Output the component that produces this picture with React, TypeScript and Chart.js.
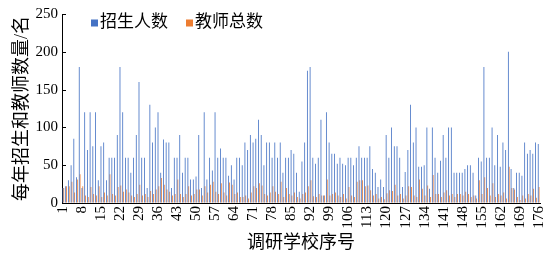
import React, { useEffect, useRef } from 'react';
import { Chart, registerables } from 'chart.js';

Chart.register(...registerables);

const FONT = '"Liberation Serif", "Noto Sans CJK SC", serif';

const seriesNames = ['招生人数', '教师总数'];
const seriesColors = ['#4472C4', '#ED7D31'];

const categories: string[] = Array.from({ length: 176 }, (_, i) => String(i + 1));

const xTickLabels = ['1', '8', '15', '22', '29', '36', '43', '50', '57', '64', '71', '78', '85', '92', '99', '106', '113', '120', '127', '134', '141', '148', '155', '162', '169', '176'];

const yTicks = [0, 50, 100, 150, 200, 250];

const enrollment = [
  20, 22, 30, 50, 85, 34, 180, 20, 120, 70,
  120, 75, 120, 30, 75, 80, 30, 60, 60, 60,
  90, 180, 120, 60, 60, 40, 60, 90, 160, 60,
  60, 20, 130, 80, 100, 120, 40, 84, 80, 80,
  20, 60, 60, 90, 40, 60, 60, 31, 31, 35,
  90, 20, 120, 31, 60, 43, 120, 60, 72, 60,
  60, 36, 50, 31, 60, 60, 50, 80, 70, 90,
  80, 85, 110, 90, 50, 80, 80, 60, 80, 60,
  80, 40, 60, 60, 70, 65, 40, 15, 55, 80,
  175, 180, 60, 52, 60, 110, 10, 120, 80, 65,
  65, 52, 60, 52, 50, 60, 60, 50, 60, 75,
  60, 60, 60, 75, 45, 40, 21, 31, 21, 90,
  60, 100, 75, 75, 60, 21, 41, 70, 130, 80,
  100, 48, 48, 50, 100, 19, 100, 60, 40, 56,
  90, 60, 100, 100, 40, 40, 40, 40, 45, 50,
  50, 40, 10, 60, 55, 180, 60, 60, 100, 50,
  90, 48, 80, 70, 200, 45, 20, 40, 40, 36,
  80, 65, 70, 65, 80, 78,
];

const teachers = [
  20, 22, 22, 28, 14, 31, 38, 22, 10, 8,
  21, 12, 10, 22, 8, 14, 10, 38, 12, 10,
  21, 23, 15, 18, 14, 10, 8, 12, 24, 10,
  12, 8, 16, 12, 18, 22, 33, 24, 18, 15,
  10, 12, 31, 12, 8, 12, 22, 10, 12, 18,
  18, 10, 22, 14, 24, 28, 15, 12, 26, 14,
  10, 27, 24, 12, 14, 8, 8, 10, 6, 14,
  22, 20, 26, 23, 12, 10, 14, 22, 15, 12,
  28, 8, 20, 12, 10, 14, 8, 6, 12, 14,
  22, 30, 9, 8, 12, 10, 10, 31, 10, 12,
  14, 10, 8, 12, 6, 21, 10, 8, 28, 30,
  30, 22, 23, 17, 10, 12, 6, 8, 5, 13,
  17, 16, 24, 10, 12, 6, 10, 22, 21, 10,
  8, 31, 19, 10, 23, 8, 37, 12, 12, 8,
  14, 17, 10, 12, 8, 12, 12, 10, 15, 12,
  8, 10, 6, 30, 12, 34, 20, 10, 26, 8,
  12, 10, 14, 6, 48, 20, 18, 8, 4, 10,
  6, 12, 10, 19, 7, 21,
];

const insideTicks = {
  id: 'insideTicks',
  afterDraw(chart: any) {
    const ctx = chart.ctx;
    const y = chart.scales.y;
    const left = chart.chartArea.left;
    ctx.save();
    ctx.strokeStyle = '#000';
    ctx.lineWidth = 1;
    yTicks.forEach((v) => {
      const py = Math.round(y.getPixelForValue(v)) + 0.5;
      ctx.beginPath();
      ctx.moveTo(left, py);
      ctx.lineTo(left + 4, py);
      ctx.stroke();
    });
    ctx.restore();
  },
};

const insideLegend = {
  id: 'insideLegend',
  afterDraw(chart: any) {
    const ctx = chart.ctx;
    const { left } = chart.chartArea;
    ctx.save();
    ctx.font = '17px ' + FONT;
    ctx.textBaseline = 'middle';
    ctx.fillStyle = '#000';
    let x = left + 29;
    const cy = 23;
    chart.data.datasets.forEach((ds: any) => {
      ctx.fillStyle = ds.backgroundColor;
      ctx.fillRect(x, cy - 3.5, 7, 7);
      x += 9;
      ctx.fillStyle = '#000';
      ctx.fillText(ds.label, x, cy);
      x += ctx.measureText(ds.label).width + 18;
    });
    ctx.restore();
  },
};

export default function App() {
  const ref = useRef<HTMLCanvasElement | null>(null);

  useEffect(() => {
    if (!ref.current) return;
    const chart = new Chart(ref.current, {
      type: 'bar',
      data: {
        labels: categories,
        datasets: [
          {
            label: seriesNames[0],
            data: enrollment,
            backgroundColor: seriesColors[0],
            categoryPercentage: 0.6,
            barPercentage: 1,
          },
          {
            label: seriesNames[1],
            data: teachers,
            backgroundColor: seriesColors[1],
            categoryPercentage: 0.6,
            barPercentage: 1,
          },
        ],
      },
      options: {
        animation: false,
        responsive: false,
        maintainAspectRatio: false,
        layout: { padding: { top: 14, right: 14, left: 0, bottom: 0 } },
        plugins: {
          legend: { display: false },
          tooltip: { enabled: false },
        },
        scales: {
          x: {
            grid: { display: true, drawOnChartArea: false, drawTicks: false },
            border: { display: true, color: '#000', width: 1 },
            ticks: {
              autoSkip: false,
              maxRotation: 90,
              minRotation: 90,
              padding: 3,
              color: '#000',
              font: { family: FONT, size: 15 },
              callback: (_v: any, i: number) =>
                xTickLabels.includes(categories[i]) ? categories[i] : null,
            },
            title: {
              display: true,
              text: '调研学校序号',
              color: '#000',
              font: { family: FONT, size: 18 },
              padding: { top: 0, bottom: 10 },
            },
            afterFit: (s: any) => {
              s.height = 61;
              s.paddingLeft = 0;
              s.paddingRight = 0;
            },
          },
          y: {
            min: 0,
            max: 250,
            grid: { display: true, drawOnChartArea: false, drawTicks: false },
            border: { display: true, color: '#000', width: 1 },
            ticks: {
              stepSize: 50,
              padding: 4,
              color: '#000',
              font: { family: FONT, size: 15 },
            },
            title: {
              display: true,
              text: '每年招生和教师数量/名',
              color: '#000',
              font: { family: FONT, size: 18 },
              padding: { top: 11, bottom: 0 },
            },
            afterFit: (s: any) => {
              s.width = 62;
            },
          },
        },
      },
      plugins: [insideTicks, insideLegend],
    } as any);
    return () => chart.destroy();
  }, []);

  return (
    <div style={{ position: 'absolute', left: 0, top: 0, width: 554, height: 264, background: '#fff' }}>
      <canvas ref={ref} width={554} height={264} style={{ width: 554, height: 264, display: 'block' }} />
    </div>
  );
}
